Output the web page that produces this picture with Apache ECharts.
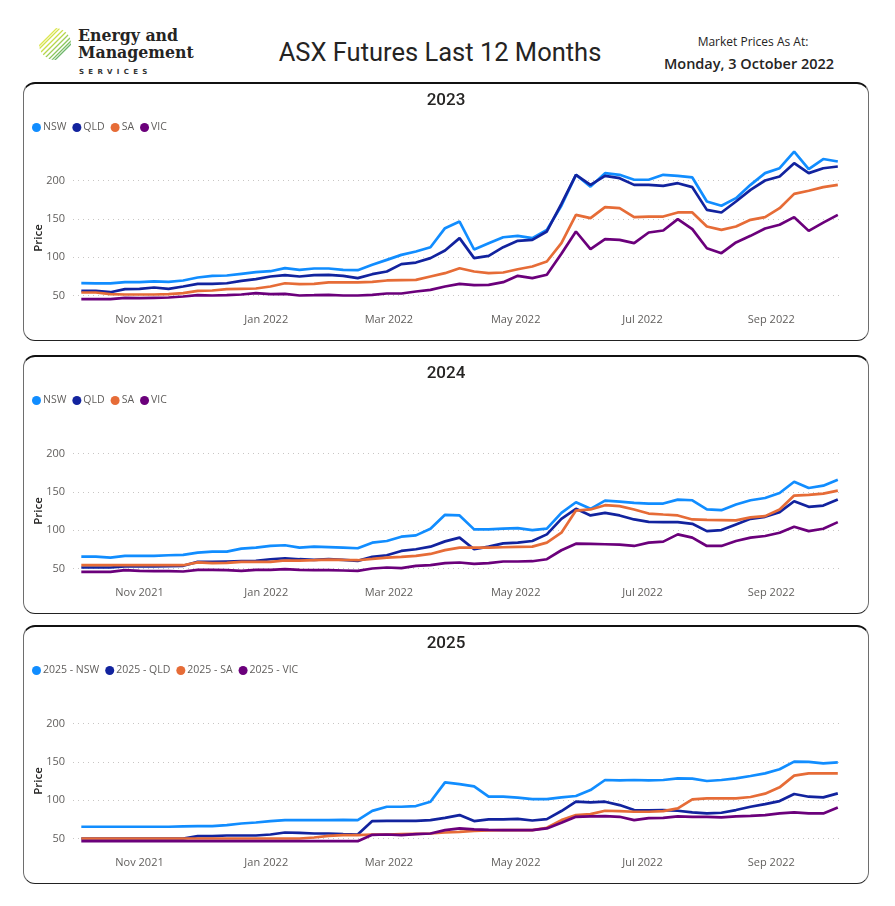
<!DOCTYPE html>
<html>
<head>
<meta charset="UTF-8">
<title>ASX Futures Last 12 Months</title>
<script src="https://cdn.jsdelivr.net/npm/echarts@6.0.0/dist/echarts.min.js"></script>
<style>
    body { margin: 0; background: #fff; width: 895px; height: 906px; position: relative; overflow: hidden; }
    .box { position: absolute; left: 24px; width: 844px; height: 257px; }
    .frame { position: absolute; left: 23px; width: 844px; height: 256px; border: 1px solid #6e6e6e; border-top: 2px solid #111; border-bottom: 1.5px solid #222; border-radius: 12px; pointer-events: none; }
    #logoText { position: absolute; left: 78px; top: 27px; font-family: "DejaVu Serif Condensed", "DejaVu Serif", serif; font-weight: bold; font-size: 17.5px; line-height: 17px; color: #252423; }
    #logoSub { position: absolute; left: 79px; top: 68px; font-family: "DejaVu Sans", sans-serif; font-weight: bold; font-size: 7px; letter-spacing: 4.3px; color: #333; }
    #mainTitle { position: absolute; left: 0; width: 880px; top: 37px; text-align: center; font-family: Roboto, sans-serif; font-size: 25.5px; color: #252423; }
    #asAt { position: absolute; left: 653px; width: 200px; top: 33px; text-align: center; font-family: "Open Sans", sans-serif; font-size: 12px; color: #252423; }
    #asAtDate { position: absolute; left: 649px; width: 200px; top: 54px; text-align: center; font-family: "Open Sans", sans-serif; font-weight: 600; font-size: 14.5px; color: #252423; }
</style>
</head>
<body>
<svg style="position:absolute;left:36px;top:25px" width="38" height="38" viewBox="0 0 38 38">
    <defs><clipPath id="c"><circle cx="19" cy="19" r="16"/></clipPath></defs>
    <g clip-path="url(#c)" stroke-width="1.3" stroke-linecap="round">
        <line x1="2" y1="30" x2="30" y2="2" stroke="#c9dd4a"/>
        <line x1="4" y1="33" x2="33" y2="4" stroke="#b6d64a"/>
        <line x1="7" y1="35" x2="35" y2="7" stroke="#9fcd55"/>
        <line x1="10" y1="37" x2="37" y2="10" stroke="#8cc55c"/>
        <line x1="0" y1="27" x2="27" y2="0" stroke="#d3e24a"/>
        <line x1="0" y1="24" x2="24" y2="0" stroke="#dde64f"/>
        <line x1="13" y1="38" x2="38" y2="13" stroke="#7bbd63"/>
        <line x1="16" y1="38" x2="38" y2="16" stroke="#6db66a"/>
    </g>
</svg>
<div id="logoText">Energy and<br>Management</div>
<div id="logoSub">SERVICES</div>
<div id="mainTitle">ASX Futures Last 12 Months</div>
<div id="asAt">Market Prices As At:</div>
<div id="asAtDate">Monday, 3 October 2022</div>

<div id="c2023" class="box" style="top:82px"></div>
<div class="frame" style="top:82px"></div>
<div id="c2024" class="box" style="top:355px"></div>
<div class="frame" style="top:355px"></div>
<div id="c2025" class="box" style="top:625px"></div>
<div class="frame" style="top:625px"></div>

<script type="text/javascript">
    // weekly settlement dates
    var dates = ['2021-10-04','2021-10-11','2021-10-18','2021-10-25','2021-11-01','2021-11-08','2021-11-15','2021-11-22','2021-11-29',
        '2021-12-06','2021-12-13','2021-12-20','2021-12-27','2022-01-03','2022-01-10','2022-01-17','2022-01-24','2022-01-31',
        '2022-02-07','2022-02-14','2022-02-21','2022-02-28','2022-03-07','2022-03-14','2022-03-21','2022-03-28','2022-04-04',
        '2022-04-11','2022-04-18','2022-04-25','2022-05-02','2022-05-09','2022-05-16','2022-05-23','2022-05-30','2022-06-06',
        '2022-06-13','2022-06-20','2022-06-27','2022-07-04','2022-07-11','2022-07-18','2022-07-25','2022-08-01','2022-08-08',
        '2022-08-15','2022-08-22','2022-08-29','2022-09-05','2022-09-12','2022-09-19','2022-09-26','2022-10-03'];
    var monthTicks = ['2021-11-01','2022-01-01','2022-03-01','2022-05-01','2022-07-01','2022-09-01'];
    var yTicks = [50, 100, 150, 200];

    // 2023 contracts
    var nsw23 = [66.1,65.7,65.7,67.4,67.4,68.3,67.8,69.6,73.5,75.7,76.1,78.3,80.4,81.7,85.7,83.5,85.2,85.2,83.5,83,90,96.5,103,107.4,113,
        137.8,146.5,110,118,126,127.8,124.8,135.6,167,207.4,192,209.6,207.4,201,201,207.4,206,204,172.6,167,177,194.3,209.6,216,237.8,214.8,228,224.8];
    var qld23 = [56,56,54.3,58.3,58.7,60.4,58.7,61.7,65.2,65.2,66,69,71.3,74.8,76.5,74.8,76.5,77,75.7,72.6,77.8,81.3,90.9,93,98.7,
        108.7,124.8,98.7,101.7,113,121.3,122.6,133.5,169.6,207.4,194.3,206,203,194.3,194.3,193,196.5,191.3,161.7,158.3,172.6,187.8,200,205.2,222.6,209.6,216,218.3];
    var sa23 = [53.9,53.9,51.7,51.3,51.3,51.3,51.7,53,56,56.5,58.3,58.7,59.1,61.7,66,64.8,65.2,67,67,67,67.8,69.6,70,70.4,74.8,
        79.1,85.6,81.3,79.1,80,84.3,87.8,94.3,118.3,155.2,150.9,165.2,163.9,152.2,153,153,158.3,158.3,140,135.6,140,148.7,152.2,163.9,182.6,186.6,191.3,194.3];
    var vic23 = [45.2,45.2,45.2,47,46.5,47,47.4,48.7,50.4,50,50.4,51.3,53,51.7,52.2,50,50.4,50.9,50,50,50.9,52.6,52.6,55.2,57.4,
        61.7,65.2,63.5,63.9,67.4,75.7,72.6,77,104.4,133.5,110.4,123.5,122.6,118.3,132.2,134.8,149.6,136.5,111.7,105.2,119.2,127.8,137.4,142.2,152.2,134.3,145,155.2];

    // 2024 contracts
    var nsw24 = [65.6,65.4,64.3,66.4,66.4,66.4,67.3,67.7,70.7,72,72,75.9,77.2,79.4,80.3,77.2,78.5,78,77.2,76.4,83.7,85.9,91.5,93.2,101.9,
        120,119.2,101,101,101.9,102.7,100,101.9,122.6,136.4,127.8,138.6,137.3,135.6,134.7,134.7,139.9,139,127,126.1,133.4,139,142,148.5,163.2,155,158,165.8];
    var qld24 = [51.3,51.3,51.3,52.6,52.6,52.6,53,53.5,58.6,58.6,59.1,59.5,59.9,62.1,63.4,62.1,61.2,62.1,61.2,59.9,65.1,67.3,72.9,75.1,78.5,
        85.4,90.2,75.1,78.5,82.8,83.7,85.9,94.5,114.8,127.8,119.2,122.6,119.2,114,110.9,110.5,110.5,108.3,98.8,100.1,107.5,114.8,117.4,123.5,137.7,130.4,132.1,139.9];
    var sa24 = [54.3,54.3,54.3,54.3,54.3,54.3,54.3,54.3,58,56.9,57.3,58.6,58.6,58.6,60.4,60.4,60.8,61.7,61.2,60.8,62.5,64.3,65.1,66.4,69,
        74,77.2,77.2,77.2,77.7,78.1,78.5,83.7,96.7,125.6,127,132.6,131.3,127,121.7,120.4,119.2,114,113.5,113.1,112.7,116.6,118.3,127,145.1,146,147.7,151.6];
    var vic24 = [45.7,45.7,45.7,47.8,47,46.5,46.5,46.1,48.3,48.3,47.8,47,48.3,48.3,49.1,48.3,47.8,47.8,47.4,47,50,51.3,50.4,53.5,54.3,
        57,57.8,56.1,56.9,59.1,59.1,59.5,62.1,73.8,82.4,82,81.6,81.1,79.4,83.7,85,94.5,90.2,79.4,79.4,85.9,90.2,92.4,96.7,104.5,98.8,101.9,110.5];

    // 2025 contracts
    var nsw25 = [65.3,65.3,65.3,65.3,65.3,65.3,65.3,65.7,66.1,66.1,67.4,69.6,70.9,72.7,74,74,74,74,74.4,74,86,91.4,91.4,92.3,98,
        123.2,121,118,104.5,104.5,103.2,101.4,101.4,103.6,105.4,113.2,126.3,125.9,126.3,125.9,126.3,128.5,128.1,125,126.3,128.5,131.5,135,140.3,150.3,149.9,148.1,149.4];
    var qld25 = [50,50,50,50,50,50,50,50,53.1,53.1,53.9,53.9,53.9,55.2,57.8,57.4,56.5,56.5,55.7,55.2,72.7,73.1,73.1,73.1,74,
        77,80.5,72.7,74.9,74.9,75.7,73.5,75.3,85.8,98,97.1,98,93.6,87.1,86.6,87.1,86.2,84,82.7,83.6,87.1,91.4,94.9,98.8,108,104.5,103.6,108.9];
    var sa25 = [50,50,50,50,50,50,50,50,50,50,50,50,50,50,50,50,51.3,53.5,54.4,54.4,55.2,55.2,55.7,56.1,56.5,
        57.8,58.7,60,60.5,60.9,60.9,60.9,64,74,80.5,81.8,86.2,85.8,84.9,84.9,85.8,89.2,101,102.3,102.3,102.3,104.1,108.5,116.7,132,135,135,135];
    var vic25 = [46.5,46.5,46.5,46.5,46.5,46.5,46.5,46.5,46.5,46.5,46.5,46.5,46.5,46.5,46.5,46.5,46.5,46.5,46.5,46.5,54.8,55.2,54.4,55.7,56.5,
        60.9,63.1,61.8,61.3,60.9,60.9,60.9,63.1,70.5,78.3,78.8,79.2,78.3,74,76.6,77,78.8,78.3,78.3,77.5,78.8,79.6,80.5,82.7,84,82.7,82.7,90.5];

    var colors = ['#118DFF', '#12239E', '#E66C37', '#6B007B'];
    var monthNames = ['Jan','Feb','Mar','Apr','May','Jun','Jul','Aug','Sep','Oct','Nov','Dec'];
    var font = '"Open Sans", "Noto Sans", sans-serif';

    function pairs(values) {
        return values.map(function (v, i) { return [Date.parse(dates[i]), v]; });
    }

    function makeChart(id, title, names, seriesValues) {
        var chart = echarts.init(document.getElementById(id));
        var series = names.map(function (n, i) {
            return {
                name: n,
                type: 'line',
                data: pairs(seriesValues[i]),
                showSymbol: false,
                clip: false,
                lineStyle: { width: 2.7, color: colors[i] },
                itemStyle: { color: colors[i] }
            };
        });
        chart.setOption({
            animation: false,
            title: {
                text: title, left: 'center', top: 5,
                textStyle: { fontFamily: 'Roboto, sans-serif', fontSize: 17, fontWeight: 500, color: '#252423' }
            },
            legend: {
                data: names, left: 8, top: 40, padding: 0,
                icon: 'circle', itemWidth: 9, itemHeight: 9, itemGap: 6,
                textStyle: { fontFamily: font, fontSize: 10.5, color: '#605E5C', padding: [0, 0, 0, -3] }
            },
            grid: { left: 49, right: 25, top: 98.5, height: 115, containLabel: false, outerBoundsMode: 'none' },
            xAxis: {
                type: 'value',
                min: Date.parse('2021-09-30'),
                max: Date.parse('2022-10-05') + 12 * 3600e3,
                axisLine: { show: false },
                axisTick: { show: false },
                splitLine: { show: false },
                axisLabel: {
                    customValues: monthTicks.map(function (d) { return Date.parse(d); }),
                    margin: 19,
                    fontFamily: font, fontSize: 11, color: '#605E5C',
                    formatter: function (v) {
                        var d = new Date(v);
                        return monthNames[d.getUTCMonth()] + ' ' + d.getUTCFullYear();
                    }
                }
            },
            yAxis: {
                type: 'value',
                min: yTicks[0], max: yTicks[yTicks.length - 1], interval: 50,
                name: 'Price', nameLocation: 'middle', nameGap: 28, nameRotate: 90, nameMoveOverlap: false,
                nameTextStyle: { fontFamily: font, fontSize: 11.5, fontWeight: 600, color: '#252423' },
                axisLine: { show: false },
                axisTick: { show: false },
                axisLabel: { margin: 8, fontFamily: font, fontSize: 11, color: '#605E5C' },
                splitLine: { lineStyle: { color: '#C8C6C4', type: [1, 4], width: 1 } }
            },
            series: series
        });
        return chart;
    }

    makeChart('c2023', '2023', ['NSW', 'QLD', 'SA', 'VIC'], [nsw23, qld23, sa23, vic23]);
    makeChart('c2024', '2024', ['NSW', 'QLD', 'SA', 'VIC'], [nsw24, qld24, sa24, vic24]);
    makeChart('c2025', '2025', ['2025 - NSW', '2025 - QLD', '2025 - SA', '2025 - VIC'], [nsw25, qld25, sa25, vic25]);
</script>
</body>
</html>
